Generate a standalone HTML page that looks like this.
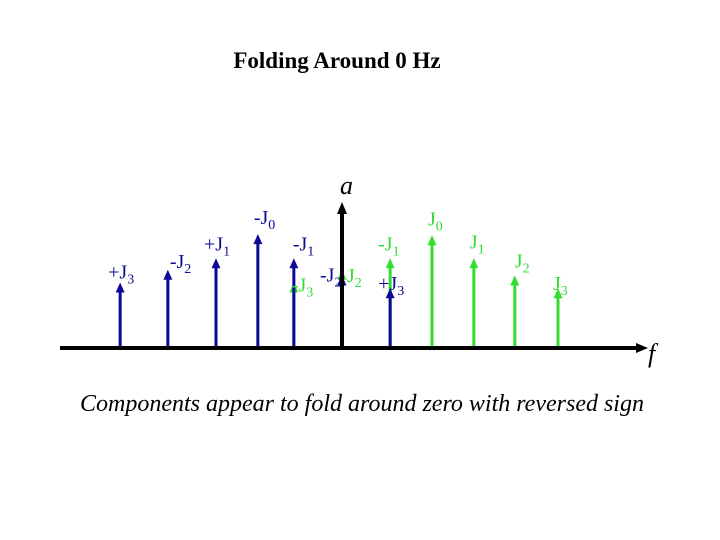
<!DOCTYPE html>
<html><head><meta charset="utf-8"><style>
body{margin:0;background:#fff}
svg{display:block;font-family:"Liberation Serif",serif}
</style></head><body>
<svg width="720" height="540" viewBox="0 0 720 540">
<text x="337" y="68" text-anchor="middle" font-size="23" font-weight="bold">Folding Around 0 Hz</text>
<g id="marks"></g>
<line x1="60" y1="348" x2="638" y2="348" stroke="#000" stroke-width="4"/>
<polygon points="648,348 636,343 636,353" fill="#000"/>
<line x1="342" y1="348" x2="342" y2="212" stroke="#000" stroke-width="4"/>
<polygon points="342,202 337,214 347,214" fill="#000"/>
<text x="340" y="194" font-size="26" font-style="italic">a</text>
<text x="648" y="362" font-size="26" font-style="italic">f</text>
<text x="362" y="411" text-anchor="middle" font-size="24" font-style="italic">Components appear to fold around zero with reversed sign</text>
<g id="labels" font-size="20"></g>
</svg>
<script>
const blueFreq=[-4.93,-3.87,-2.8,-1.87,-1.07,0,1.07];
const blueAmp=[0.57,0.68,0.78,0.99,0.78,0.63,0.52];
const blueLabel=["+J3","-J2","+J1","-J0","-J1","-J2","+J3"];
const greenFreq=[-1.07,0,1.07,2,2.93,3.84,4.8];
const greenAmp=[0.57,0.68,0.78,0.98,0.78,0.63,0.52];
const greenLabel=["-J3","J2","-J1","J0","J1","J2","J3"];
const NS="http://www.w3.org/2000/svg";
function xs(f){return 342+f*45;}
function ys(a){return 348-a*115;}
const marks=document.getElementById('marks'), labels=document.getElementById('labels');
const blueOff=[[-12,-4],[2,-2],[-12,-8],[-4,-10],[-1,-8],[-22,6],[-12,2]];
const greenOff=[[-2,9],[5,12],[-12,-8],[-4,-10],[-4,-10],[0,-8],[-5,2]];
function draw(freq,amp,lab,off,color,name){
  for(let i=0;i<freq.length;i++){
    const x=xs(freq[i]), y=ys(amp[i]);
    const g=document.createElementNS(NS,'g');
    
    
    const l=document.createElementNS(NS,'line');
    l.setAttribute('x1',x);l.setAttribute('x2',x);l.setAttribute('y1',348);l.setAttribute('y2',y+7);
    l.setAttribute('stroke',color);l.setAttribute('stroke-width',3);
    const p=document.createElementNS(NS,'polygon');
    p.setAttribute('points',`${x},${y} ${x-4.5},${y+10} ${x+4.5},${y+10}`);
    p.setAttribute('fill',color);
    g.appendChild(l);g.appendChild(p);marks.appendChild(g);
    const t=document.createElementNS(NS,'text');
    
    
    t.setAttribute('x',x+off[i][0]);t.setAttribute('y',y+off[i][1]);
    t.setAttribute('fill',color);
    const s=lab[i];
    t.appendChild(document.createTextNode(s.slice(0,-1)));
    const sub=document.createElementNS(NS,'tspan');
    sub.setAttribute('font-size','14');sub.setAttribute('dy','5');
    sub.textContent=s.slice(-1);
    t.appendChild(sub);
    labels.appendChild(t);
  }
}
draw(greenFreq,greenAmp,greenLabel,greenOff,'#33dd33','green');
draw(blueFreq,blueAmp,blueLabel,blueOff,'#0a0a96','blue');
</script>
</body></html>
